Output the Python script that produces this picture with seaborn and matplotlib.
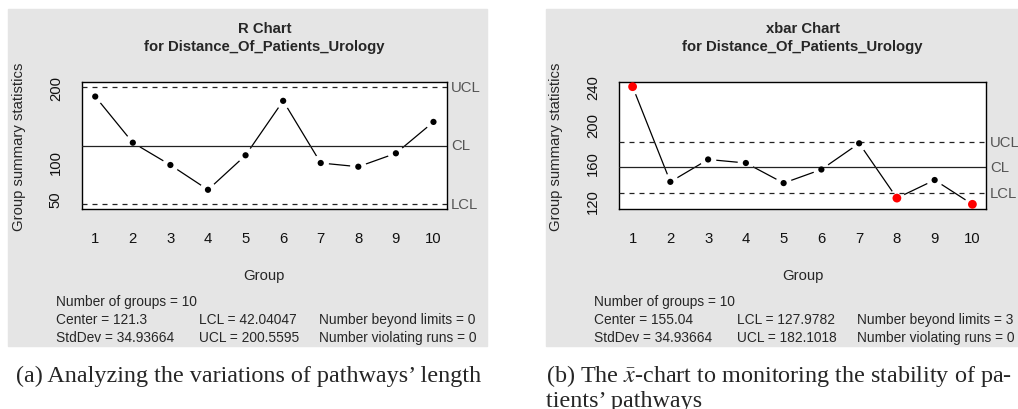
import numpy as np
import matplotlib
matplotlib.use("Agg")
import matplotlib.pyplot as plt
import seaborn as sns
from matplotlib.patches import Rectangle
from matplotlib.transforms import blended_transform_factory

# ========== Data ==========

groups = [1, 2, 3, 4, 5, 6, 7, 8, 9, 10]

r_values = [187.3, 125.1, 95.0, 61.6, 108.1, 181.5, 97.7, 92.7, 110.8, 153.1]
r_center, r_lcl, r_ucl = 121.3, 42.04047, 200.5595
r_stddev = 34.93664
r_beyond, r_runs = 0, 0

xbar_values = [239.5, 140.0, 163.4, 159.7, 138.7, 152.9, 180.3, 123.0, 141.9, 116.5]
xbar_center, xbar_lcl, xbar_ucl = 155.04, 127.9782, 182.1018
xbar_stddev = 34.93664
xbar_beyond, xbar_runs = 3, 0

r_yticks = [50, 100, 150, 200]
r_yticklabels = ["50", "100", "", "200"]
xbar_yticks = [120, 140, 160, 180, 200, 220, 240]
xbar_yticklabels = ["120", "", "160", "", "200", "", "240"]

# ========== Style ==========

sns.set_style("white")
plt.rcParams["font.family"] = ["Liberation Sans", "DejaVu Sans"]
plt.rcParams["mathtext.fontset"] = "stix"

W, H = 1018, 410
GREY = "#E5E5E5"
LABEL_GREY = "#555555"
FS = 10.7
FS_SMALL = 9.9


def fx(px):
    return px / W


def fy(py):
    return 1 - py / H


fig = plt.figure(figsize=(W / 100, H / 100), dpi=100)
fig.patch.set_facecolor("white")

# grey panel backgrounds
fig.patches.append(Rectangle((fx(8), fy(347)), fx(479), 337 / H,
                             transform=fig.transFigure, color=GREY, zorder=-1))
fig.patches.append(Rectangle((fx(546), fy(347)), fx(480), 337 / H,
                             transform=fig.transFigure, color=GREY, zorder=-1))


def qcc_panel(left_px, right_px, values, center, lcl, ucl, yticks, yticklabels,
              title, ylim):
    ax = fig.add_axes([fx(left_px), fy(210), fx(right_px - left_px), 127 / H])
    ax.set_zorder(1)
    ax.set_facecolor("white")

    # line, then white halos to get R's type="b" gaps
    sns.lineplot(x=groups, y=values, ax=ax, color="black", lw=0.9, zorder=1)
    sns.scatterplot(x=groups, y=values, ax=ax, color="white", s=140,
                    edgecolor="none", zorder=2)

    ax.axhline(center, color="#222222", lw=0.9, zorder=3)
    ax.axhline(ucl, color="#222222", lw=0.9, ls=(0, (4, 4)), zorder=3)
    ax.axhline(lcl, color="#222222", lw=0.9, ls=(0, (4, 4)), zorder=3)

    out = [(v < lcl) or (v > ucl) for v in values]
    ok_x = [g for g, o in zip(groups, out) if not o]
    ok_y = [v for v, o in zip(values, out) if not o]
    bad_x = [g for g, o in zip(groups, out) if o]
    bad_y = [v for v, o in zip(values, out) if o]
    sns.scatterplot(x=ok_x, y=ok_y, ax=ax, color="black", s=20,
                    edgecolor="none", zorder=4)
    if bad_x:
        sns.scatterplot(x=bad_x, y=bad_y, ax=ax, color="red", s=40,
                        edgecolor="none", zorder=4, clip_on=False)

    trans = blended_transform_factory(ax.transAxes, ax.transData)
    for name, yv in [("UCL", ucl), ("CL", center), ("LCL", lcl)]:
        ax.text(1.011, yv, name, transform=trans, color=LABEL_GREY,
                fontsize=FS, va="center", ha="left")

    ax.set_xlim(0.64, 10.36)
    ax.set_ylim(*ylim)
    ax.set_xticks(groups, [str(g) for g in groups])
    ax.set_yticks(yticks, yticklabels)
    for lab in ax.get_yticklabels():
        lab.set_rotation(90)
        lab.set_va("center")
    ax.tick_params(axis="both", direction="out", length=6.5, width=0.8,
                   color="#555555", labelsize=FS, labelcolor="#111111")
    ax.tick_params(axis="x", pad=9)
    ax.tick_params(axis="y", pad=7)
    ax.set_xlabel("")
    ax.set_ylabel("")
    for sp in ax.spines.values():
        sp.set_visible(True)
        sp.set_color("black")
        sp.set_linewidth(1.0)

    cx = (left_px + right_px) / 2
    fig.text(fx(cx), fy(33.3), title[0], ha="center", va="baseline",
             fontsize=FS, fontweight="bold")
    fig.text(fx(cx), fy(50.7), title[1], ha="center", va="baseline",
             fontsize=FS, fontweight="bold")
    fig.text(fx(cx), fy(280), "Group", ha="center", va="baseline", fontsize=FS)
    return ax


qcc_panel(81.7, 447, r_values, r_center, r_lcl, r_ucl, r_yticks, r_yticklabels,
          ["R Chart", "for Distance_Of_Patients_Urology"], (35.7, 206.9))
qcc_panel(619, 986, xbar_values, xbar_center, xbar_lcl, xbar_ucl, xbar_yticks,
          xbar_yticklabels, ["xbar Chart", "for Distance_Of_Patients_Urology"],
          (111.6, 244.4))

# y axis labels
for x in [19, 556]:
    fig.text(fx(x), fy(146.5), "Group summary statistics", rotation=90,
             ha="center", va="center", fontsize=FS)


def summary(x0, x1, x2, center, stddev, lcl, ucl, beyond, runs):
    kw = dict(fontsize=FS_SMALL, va="baseline", ha="left")
    fig.text(fx(x0), fy(306), f"Number of groups = {len(groups)}", **kw)
    fig.text(fx(x0), fy(324), f"Center = {center:g}", **kw)
    fig.text(fx(x0), fy(342.3), f"StdDev = {stddev:.7g}", **kw)
    fig.text(fx(x1), fy(324), f"LCL = {lcl:.7g}", **kw)
    fig.text(fx(x1), fy(342.3), f"UCL = {ucl:.7g}", **kw)
    fig.text(fx(x2), fy(324), f"Number beyond limits = {beyond}", **kw)
    fig.text(fx(x2), fy(342.3), f"Number violating runs = {runs}", **kw)


summary(55.7, 199.3, 319.3, r_center, r_stddev, r_lcl, r_ucl, r_beyond, r_runs)
summary(594, 737.3, 857.3, xbar_center, xbar_stddev, xbar_lcl, xbar_ucl,
        xbar_beyond, xbar_runs)

# captions
cap = dict(fontsize=17.4, va="baseline", ha="left",
           family=["Liberation Serif", "DejaVu Serif"])
fig.text(fx(16), fy(381.7), "(a) Analyzing the variations of pathways\u2019 length", **cap)
fig.text(fx(546), fy(381.7), r"(b) The $\bar{x}$-chart to monitoring the stability of pa-", **cap)
fig.text(fx(546), fy(407), "tients\u2019 pathways", **cap)

fig.savefig("out.png", dpi=100)
